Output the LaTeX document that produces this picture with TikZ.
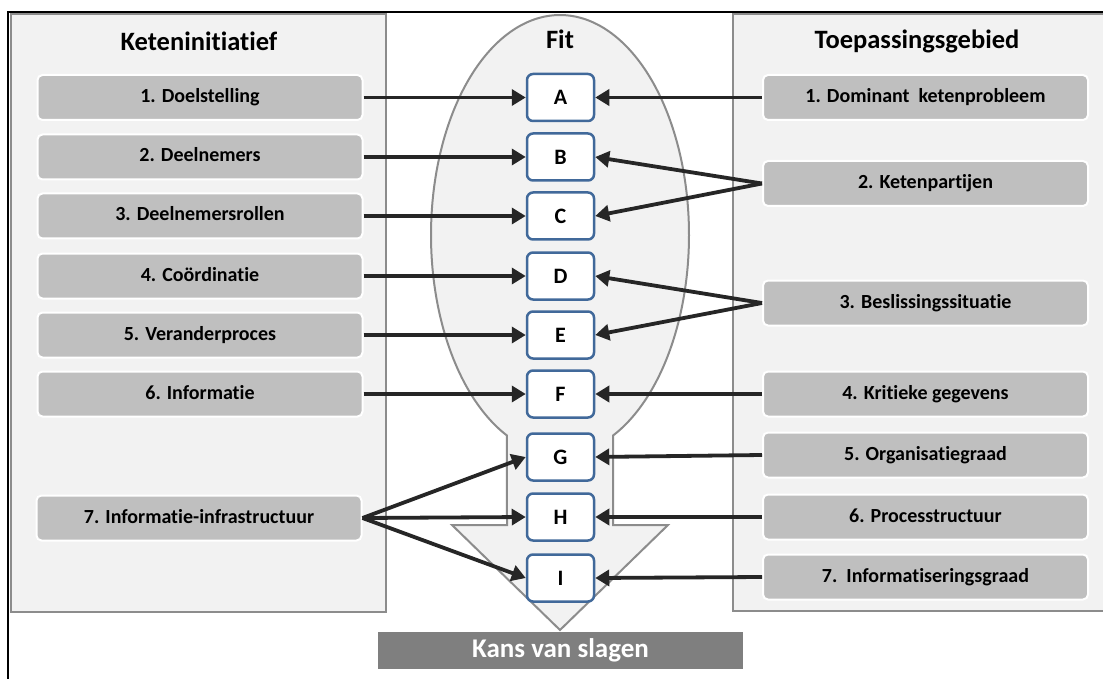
\documentclass[tikz,border=0pt]{standalone}
\usepackage{fontspec}
\setmainfont{Carlito}[Ligatures=NoCommon]
\usetikzlibrary{arrows.meta}
\definecolor{panelfill}{HTML}{F2F2F2}
\definecolor{panelline}{HTML}{8C8C8C}
\definecolor{boxfill}{HTML}{BFBFBF}
\definecolor{fitblue}{HTML}{41699A}
\definecolor{arrowcol}{HTML}{262626}
\definecolor{kansfill}{HTML}{7F7F7F}
\tikzset{
  panel/.style={draw=panelline, fill=panelfill, line width=2pt},
  itembox/.style={draw=white, fill=boxfill, line width=2pt, rounded corners=5pt,
    minimum width=325pt, minimum height=45pt, inner sep=0pt,
    font=\bfseries\fontsize{20}{22}\selectfont, text height=14pt, text depth=4pt},
  fitbox/.style={draw=fitblue, fill=white, line width=2.5pt, rounded corners=6pt,
    minimum width=67pt, minimum height=47pt, inner sep=0pt,
    font=\bfseries\fontsize{22}{24}\selectfont},
  title/.style={font=\bfseries\fontsize{26.5}{28}\selectfont},
  conn/.style={draw=arrowcol, line width=3.8pt, -{Triangle[length=14pt,width=16pt]}},
  fitshape/.style={draw=panelline, fill=panelfill, line width=2pt},
}
\begin{document}
\begin{tikzpicture}[x=1pt,y=-1pt]
\useasboundingbox (0,0) rectangle (1103,679);
\fill[white] (0,0) rectangle (1103,679);
% outer frame lines
\draw[black, line width=1.5pt] (8,679) -- (8,12) -- (1110,12);
% panels
\draw[panel] (11,14) rectangle (386,612);
\draw[panel] (733,14) rectangle (1110,611);
% fit shape
\draw[fitshape] plot[domain=65.7:-245.7, samples=160, smooth] ({560+129*cos(\x)},{235+220*sin(\x)})
  -- (507,525) -- (452,525) -- (560,630) -- (668,525) -- (613,525) -- cycle;
% Kans van slagen
\node[fill=kansfill, minimum width=365pt, minimum height=37pt, inner sep=0pt,
  text=white, font=\bfseries\fontsize{27}{29}\selectfont] (kans) at (560.5,650) {Kans van slagen};
% titles
\node[title] (tl) at (199,41) {Keteninitiatief};
\node[title] (tr) at (917,41) {Toepassingsgebied};
\node[title] (tf) at (560,39) {Fit};
% left boxes
\node[itembox] (l1) at (200,97.5) {1. Doelstelling};
\node[itembox] (l2) at (200,157) {2. Deelnemers};
\node[itembox] (l3) at (200,216) {3. Deelnemersrollen};
\node[itembox] (l4) at (200,276) {4. Coördinatie};
\node[itembox] (l5) at (200,335) {5. Veranderproces};
\node[itembox] (l6) at (200,394) {6. Informatie};
\node[itembox] (l7) at (199,518) {7. Informatie-infrastructuur};
% right boxes
\node[itembox] (r1) at (925.5,97.5) {1. Dominant\ \ ketenprobleem};
\node[itembox] (r2) at (925.5,183.5) {2. Ketenpartijen};
\node[itembox] (r3) at (925.5,303) {3. Beslissingssituatie};
\node[itembox] (r4) at (925.5,394) {4. Kritieke gegevens};
\node[itembox] (r5) at (925.5,455) {5. Organisatiegraad};
\node[itembox] (r6) at (925.5,517) {6. Processtructuur};
\node[itembox] (r7) at (925.5,577) {7.\ \ Informatiseringsgraad};
% fit boxes
\node[fitbox] (A) at (560.5,97.5) {A};
\node[fitbox] (B) at (560.5,157) {B};
\node[fitbox] (C) at (560.5,216) {C};
\node[fitbox] (D) at (560.5,276) {D};
\node[fitbox] (E) at (560.5,335) {E};
\node[fitbox] (F) at (560.5,394) {F};
\node[fitbox] (G) at (560.5,457) {G};
\node[fitbox] (H) at (560.5,517) {H};
\node[fitbox] (I) at (560.5,578) {I};
% connectors left
\draw[conn] (l1.east) -- (A.west);
\draw[conn] (l2.east) -- (B.west);
\draw[conn] (l3.east) -- (C.west);
\draw[conn] (l4.east) -- (D.west);
\draw[conn] (l5.east) -- (E.west);
\draw[conn] (l6.east) -- (F.west);
\draw[conn] (l7.east) -- (G.west);
\draw[conn] (l7.east) -- (H.west);
\draw[conn] (l7.east) -- (I.west);
% connectors right
\draw[conn] (r1.west) -- (A.east);
\draw[conn] (r2.west) -- (B.east);
\draw[conn] (r2.west) -- (C.east);
\draw[conn] (r3.west) -- (D.east);
\draw[conn] (r3.west) -- (E.east);
\draw[conn] (r4.west) -- (F.east);
\draw[conn] (r5.west) -- (G.east);
\draw[conn] (r6.west) -- (H.east);
\draw[conn] (r7.west) -- (I.east);
\end{tikzpicture}
\end{document}
